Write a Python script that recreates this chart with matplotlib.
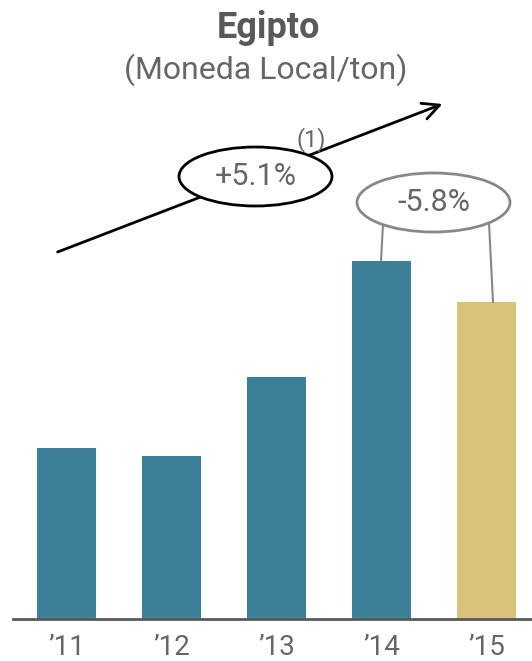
import matplotlib.pyplot as plt
import matplotlib.patches as patches

# data
years = ["\u201911", "\u201912", "\u201913", "\u201914", "\u201915"]
values = [171, 163, 242, 358, 317]
bar_colors = ["#3b8098", "#3b8098", "#3b8098", "#3b8098", "#d9c27a"]
cagr_label = "+5.1%"
yoy_label = "-5.8%"

gray = "#595959"
plt.rcParams['font.family'] = ['Roboto', 'DejaVu Sans']

W, H = 532, 661
fig = plt.figure(figsize=(W / 100, H / 100), dpi=100)
# axes: bottom at baseline (y=619px), top at figure top
ax = fig.add_axes([13 / W, (H - 619) / H, (W - 13) / W, 619 / H])
ax.set_xlim((13 - 66.5) / 105, (W - 66.5) / 105)
ax.set_ylim(0, 619)

x = list(range(len(years)))
ax.bar(x, values, width=0.562, color=bar_colors, zorder=2)

for s in ['top', 'right', 'left']:
    ax.spines[s].set_visible(False)
ax.spines['bottom'].set_color(gray)
ax.spines['bottom'].set_linewidth(2)
ax.set_yticks([])
ax.set_xticks(x)
ax.set_xticklabels(years, fontsize=20, color="#666666")
ax.tick_params(axis='x', length=0, pad=11)


def px(xp, yp):
    # pixel position -> data coords helper for annotations
    return (xp - 66.5) / 105, 619 - yp


# growth arrow
ax.annotate("", xy=px(445, 103), xytext=px(55, 253),
            arrowprops=dict(arrowstyle="->", color="black", lw=2,
                            mutation_scale=30), zorder=3)

# +5.1% ellipse
cx, cy = px(255.5, 176.5)
ax.add_patch(patches.Ellipse((cx, cy), 153 / 105, 59, facecolor="white",
                             edgecolor="black", lw=2, zorder=4))
ax.text(cx, cy, cagr_label, fontsize=22, color="#666666", ha="center",
        va="center", zorder=5)
ax.text(*px(311, 140), "(1)", fontsize=17, color="#666666", ha="center",
        va="center", zorder=5)

# -5.8% bracket
ax.plot(*zip(px(383, 225), px(381, 260)), color="#888888", lw=1.5, zorder=3)
ax.plot(*zip(px(489, 223), px(493, 302)), color="#888888", lw=1.5, zorder=3)
cx2, cy2 = px(433.5, 202.5)
ax.add_patch(patches.Ellipse((cx2, cy2), 153 / 105, 59, facecolor="white",
                             edgecolor="#888888", lw=2, zorder=4))
ax.text(cx2, cy2, yoy_label, fontsize=22, color="#666666", ha="center",
        va="center", zorder=5)

# titles
fig.text(268 / W, 1 - 28 / H, "Egipto", fontsize=26, fontweight="bold",
         color=gray, ha="center", va="center")
fig.text(266 / W, 1 - 70 / H, "(Moneda Local/ton)", fontsize=23,
         color="#666666", ha="center", va="center")

fig.savefig("out.png", dpi=100)
